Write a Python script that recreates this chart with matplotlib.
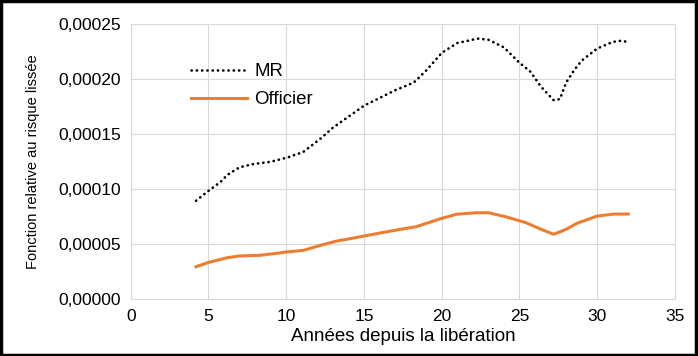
import numpy as np
import matplotlib
matplotlib.use("Agg")
import matplotlib.pyplot as plt
from matplotlib.ticker import FuncFormatter, MultipleLocator

plt.rcParams['font.family'] = ['Liberation Sans', 'DejaVu Sans']

# courbe MR (pointillés)
mr_x = [4.2, 4.9, 5.8, 6.2, 7.0, 7.9, 9.0, 10.1, 11.1, 12.2, 13.0, 14.1, 15.0, 16.0, 17.0,
        18.2, 19.0, 20.0, 21.0, 22.3, 23.0, 24.0, 25.0, 25.7, 26.4, 27.2, 27.6, 28.0,
        28.5, 29.0, 30.0, 31.0, 31.5, 32.0]
mr_y = [0.0000896, 0.0000975, 0.000107, 0.000113, 0.000120, 0.000123, 0.000125, 0.000129,
        0.000134, 0.000146, 0.000156, 0.000167, 0.000176, 0.000183, 0.000190,
        0.000197, 0.000208, 0.000224, 0.000233, 0.000237, 0.000236, 0.000229, 0.000215,
        0.000207, 0.000193, 0.000181, 0.000182, 0.000197, 0.000208, 0.000217, 0.000228,
        0.000234, 0.000235, 0.000234]

# courbe Officier
off_x = [4.2, 5.0, 6.2, 7.0, 8.3, 9.4, 10.0, 11.1, 12.2, 13.2, 14.1, 15.0, 16.85, 18.35,
         20.0, 20.95, 22.2, 23.0, 24.1, 25.4, 26.4, 27.2, 28.0, 28.7, 30.0, 31.1, 32.0]
off_y = [0.0000296, 0.0000335, 0.0000378, 0.0000394, 0.0000400, 0.0000418, 0.0000430,
         0.0000445, 0.0000490, 0.0000528, 0.0000551, 0.0000575, 0.0000624, 0.0000660,
         0.0000736, 0.0000773, 0.0000787, 0.0000787, 0.0000751, 0.0000697, 0.0000636,
         0.0000591, 0.0000636, 0.0000691, 0.0000757, 0.0000775, 0.0000775]

fig = plt.figure(figsize=(6.98, 3.56), dpi=100)
ax = fig.add_axes([0.1873, 0.1593, 0.967 - 0.1873, 0.9317 - 0.1593])

ax.plot(mr_x, mr_y, color='black', lw=1.9, linestyle=(0, (0.1, 1.9)),
        dash_capstyle='round', label='MR')
ax.plot(off_x, off_y, color='#ED7D31', lw=2.2, label='Officier')

ax.set_xlim(0, 35)
ax.set_ylim(0, 0.00025)
ax.xaxis.set_major_locator(MultipleLocator(5))
ax.yaxis.set_major_locator(MultipleLocator(0.00005))
ax.yaxis.set_major_formatter(FuncFormatter(lambda v, p: ('%.5f' % v).replace('.', ',')))

ax.grid(True, color='#d9d9d9', lw=0.8)
ax.set_axisbelow(True)
for s in ax.spines.values():
    s.set_color('#d9d9d9')
ax.tick_params(length=0, labelsize=12.5, colors='#000000', pad=7)

ax.set_xlabel('Années depuis la libération', fontsize=13.5, labelpad=3)
ax.set_ylabel('Fonction relative au risque lissée', fontsize=10.5, labelpad=13)

ax.legend(loc='upper left', bbox_to_anchor=(0.08, 0.92), frameon=False, fontsize=13.4,
          handlelength=3.0, handletextpad=0.4, labelspacing=0.6)

# cadre noir autour de la figure
fig.patches.append(plt.Rectangle((0.002, 0.003), 0.995, 0.993, transform=fig.transFigure,
                                 fill=False, edgecolor='black', lw=2.5))

fig.savefig('out.png', dpi=100)
